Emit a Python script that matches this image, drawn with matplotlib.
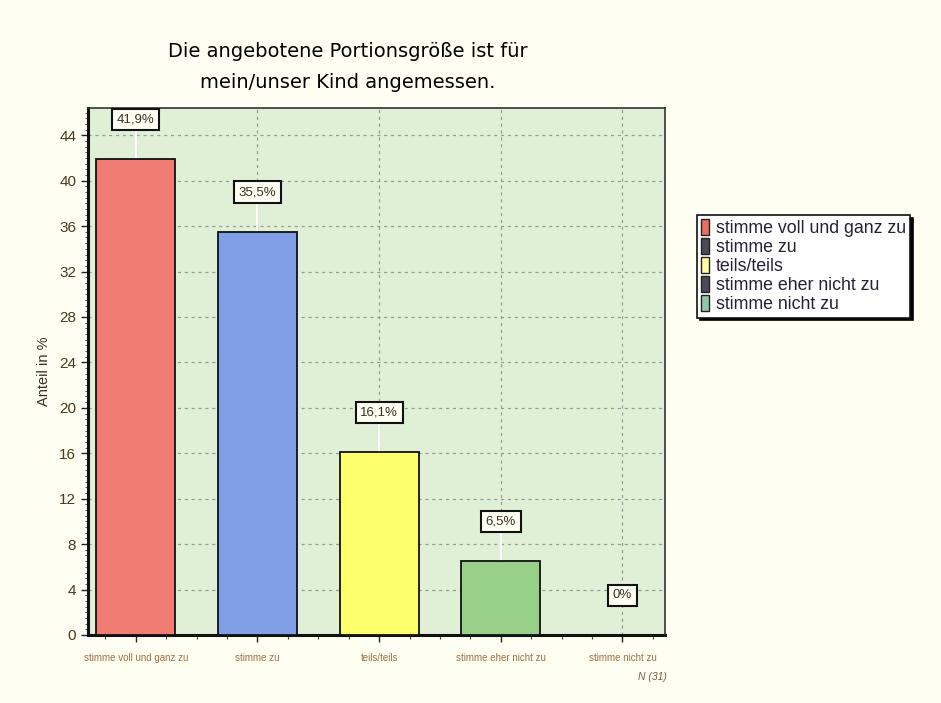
import matplotlib
matplotlib.use("Agg")
import matplotlib.pyplot as plt
from matplotlib.patches import Patch
from matplotlib.ticker import MultipleLocator
import numpy as np

categories = ["stimme voll und ganz zu", "stimme zu", "teils/teils",
              "stimme eher nicht zu", "stimme nicht zu"]
values = [41.9, 35.5, 16.1, 6.5, 0.0]
value_labels = ["41,9%", "35,5%", "16,1%", "6,5%", "0%"]
bar_colors = ["#F07C74", "#809FE6", "#FFFF6E", "#98D08A", "#98D08A"]
legend_colors = ["#E8705E", "#4A4A58", "#FFFFA0", "#4A4A58", "#90C8A8"]
yticks = [0, 4, 8, 12, 16, 20, 24, 28, 32, 36, 40, 44]
title = "Die angebotene Portionsgröße ist für\nmein/unser Kind angemessen."
n_text = "N (31)"

plt.rcParams["font.family"] = ["Liberation Sans", "DejaVu Sans"]

fig = plt.figure(figsize=(9.41, 7.03), dpi=100, facecolor="#FEFEF2")
ax = fig.add_axes([88/941, 1-635/703, (665-88)/941, (635-108)/703])
ax.set_facecolor("#DFF0D6")

x = np.arange(len(categories))
ax.bar(x, values, width=0.65, color=bar_colors, edgecolor="#111111",
       linewidth=1.3, zorder=3)

ax.set_xlim(-0.393, 4.35)
ax.set_ylim(0, 46.4)

ax.set_yticks(yticks)
ax.yaxis.set_minor_locator(MultipleLocator(0.5))
ax.set_xticks(x)
ax.set_xticklabels(categories)
ax.xaxis.set_minor_locator(MultipleLocator(0.25))

ax.tick_params(axis="y", which="major", length=5, width=1, colors="#222222",
               labelcolor="#4A3A20", labelsize=11)
ax.tick_params(axis="y", which="minor", length=2.5, width=0.6, colors="#444444")
ax.tick_params(axis="x", which="major", length=5, width=1, colors="#222222",
               labelcolor="#A07040", labelsize=7, pad=8)
ax.tick_params(axis="x", which="minor", length=3, width=0.8, colors="#444444")

ax.grid(True, which="major", color="#9A9A9A", linestyle=(0, (2.5, 3)),
        linewidth=0.9, zorder=1)
ax.set_axisbelow(True)

for s in ["left", "bottom"]:
    ax.spines[s].set_linewidth(2.2)
    ax.spines[s].set_color("#111111")
for s in ["top", "right"]:
    ax.spines[s].set_linewidth(1.2)
    ax.spines[s].set_color("#333333")

ax.set_ylabel("Anteil in %", fontsize=10.5, color="#3A3020", labelpad=6)

for xi, v, lab in zip(x, values, value_labels):
    if v > 0:
        ax.plot([xi, xi], [v, v + 3.5], color="white", linewidth=1.5, zorder=2)
    ax.text(xi, v + 3.5, lab, ha="center", va="center", fontsize=9.5,
            color="#3A3020", zorder=4,
            bbox=dict(boxstyle="square,pad=0.35", facecolor="#FFFFF4",
                      edgecolor="#111111", linewidth=1.5))

fig.text(348/941, 1-67/703, title, ha="center", va="center",
         fontsize=14, color="#000000", family="DejaVu Sans", linespacing=1.75)

fig.text(652/941, 1-677/703, n_text, ha="center", va="center",
         fontsize=7.5, style="italic", color="#7A5A3A")

handles = [Patch(facecolor=c, edgecolor="#222222", linewidth=1) for c in legend_colors]
leg = fig.legend(handles, categories, loc="upper left",
                 bbox_to_anchor=(697/941, 1-215/703), frameon=True,
                 fontsize=12.8, handlelength=0.45, handleheight=1.0,
                 handletextpad=0.35, labelspacing=0.05, borderpad=0.25,
                 fancybox=False, shadow={"color": "black", "alpha": 1},
                 borderaxespad=0)
leg.get_frame().set_edgecolor("#111111")
leg.get_frame().set_linewidth(1.2)
for t in leg.get_texts():
    t.set_color("#222233")

fig.savefig("out.png", dpi=100, facecolor=fig.get_facecolor())
